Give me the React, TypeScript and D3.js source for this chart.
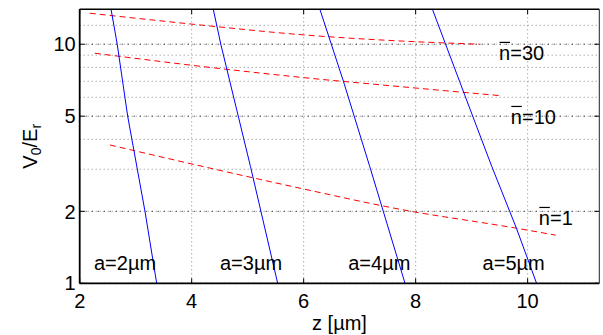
import React from 'react';
import * as d3 from 'd3';

const W = 603;
const H = 335;
const M = { left: 79.7, right: 3.7, top: 9.3, bottom: 51.7 };

// red dashed curves, one per mean occupation n̄
const z30 = [2.18, 4.15, 6.0, 7.72, 9.15];
const v30 = [13.48, 12.04, 10.94, 10.32, 10.0];
const z10 = [2.27, 4.15, 6.0, 7.72, 9.49];
const v10 = [9.17, 8.09, 7.25, 6.65, 6.1];
const z1 = [2.54, 4.2, 6.0, 7.72, 9.8, 10.5];
const v1 = [3.79, 3.08, 2.48, 2.04, 1.7, 1.59];

// blue solid curves, one per trap size a
const zA2 = [2.56, 2.67, 2.857, 3.166, 3.375];
const vA2 = [14, 10, 5, 2, 1];
const zA3 = [4.386, 4.52, 5.05, 5.536];
const vA3 = [14, 10, 3.08, 1];
const zA4 = [6.29, 6.71, 7.18, 7.81];
const vA4 = [14, 7.0, 3.08, 1];
const zA5 = [8.3, 8.88, 9.36, 9.8, 10.16];
const vA5 = [14, 6.1, 3.08, 1.7, 1];

const xTicks = [2, 4, 6, 8, 10];
const yTicks = [1, 2, 5, 10];
const yMinorGrid = [1, 2, 3, 4, 5, 6, 7, 8, 9, 10, 12];

const aLabels = ['a=2', 'a=3', 'a=4', 'a=5'];
const aLabelZ = [2.255, 4.505, 6.796, 9.196];
const nLabels = ['=30', '=10', '=1'];
const nLabelZ = [9.49, 9.7, 10.2];
const nLabelV = [8.6, 4.64, 1.754];

const FONT = '"Liberation Sans", Arial, Helvetica, sans-serif';

export default function App() {
  const iw = W - M.left - M.right;
  const ih = H - M.top - M.bottom;
  const x = d3.scaleLinear().domain([2, 11.28]).range([0, iw]);
  const y = d3.scaleLog().domain([1, 14]).range([ih, 0]);

  const line = d3
    .line<[number, number]>()
    .x(d => x(d[0]))
    .y(d => y(d[1]));
  const smooth = line.curve(d3.curveMonotoneX);
  const pts = (zs: number[], vs: number[]) => zs.map((z, i) => [z, vs[i]] as [number, number]);

  const redSeries = [pts(z30, v30), pts(z10, v10), pts(z1, v1)];
  const blueSeries = [pts(zA2, vA2), pts(zA3, vA3), pts(zA4, vA4), pts(zA5, vA5)];
  const straight = d3
    .line<[number, number]>()
    .x(d => x(d[0]))
    .y(d => y(d[1]));

  return (
    <svg width={W} height={H} style={{ position: 'absolute', left: 0, top: 0, background: '#fff' }} fontFamily={FONT}>
      <g transform={`translate(${M.left},${M.top})`}>
        {/* grid */}
        {yMinorGrid.map(v => (
          <line key={'gy' + v} x1={0} x2={iw} y1={y(v)} y2={y(v)} stroke="#888" strokeWidth={1} strokeDasharray="1,3" />
        ))}
        {yTicks.map(v => (
          <line key={'gY' + v} x1={0} x2={iw} y1={y(v)} y2={y(v)} stroke="#111" strokeWidth={1} strokeDasharray="1,5" />
        ))}
        {xTicks.map(v => (
          <line key={'gx' + v} x1={x(v)} x2={x(v)} y1={0} y2={ih} stroke="#888" strokeWidth={1} strokeDasharray="1,3" />
        ))}

        {/* red dashed */}
        {redSeries.map((s, i) => (
          <path key={'r' + i} d={smooth(s) || ''} fill="none" stroke="#ff0000" strokeWidth={1} strokeDasharray="6,4" />
        ))}
        {/* blue solid */}
        {blueSeries.map((s, i) => (
          <path key={'b' + i} d={straight(s) || ''} fill="none" stroke="#0000ff" strokeWidth={1} />
        ))}

        {/* annotations */}
        {aLabels.map((t, i) => (
          <text key={'a' + i} x={x(aLabelZ[i])} y={y(1.14)} fontSize={20} fill="#000">
            {t}µm
          </text>
        ))}
        {nLabels.map((t, i) => {
          const lx = x(nLabelZ[i]);
          const ly = y(nLabelV[i]);
          return (
            <g key={'n' + i}>
              <text x={lx} y={ly} fontSize={20} fill="#000">
                n{t}
              </text>
              <line x1={lx + 0.5} x2={lx + 11} y1={ly - 17.5} y2={ly - 17.5} stroke="#000" strokeWidth={1.2} />
            </g>
          );
        })}

        {/* ticks */}
        {xTicks.map(v => (
          <g key={'tx' + v}>
            <line x1={x(v)} x2={x(v)} y1={ih} y2={ih - 5} stroke="#000" />
            <line x1={x(v)} x2={x(v)} y1={0} y2={5} stroke="#000" />
            <text x={x(v)} y={ih + 25} fontSize={20} textAnchor="middle" fill="#000">
              {v}
            </text>
          </g>
        ))}
        {yTicks.map(v => (
          <g key={'ty' + v}>
            <line x1={0} x2={5} y1={y(v)} y2={y(v)} stroke="#000" />
            <line x1={iw} x2={iw - 5} y1={y(v)} y2={y(v)} stroke="#000" />
            <text x={-4} y={y(v)} dy="0.36em" fontSize={20} textAnchor="end" fill="#000">
              {v}
            </text>
          </g>
        ))}

        {/* frame */}
        <line x1={0} x2={iw} y1={0} y2={0} stroke="#000" strokeWidth={1.5} />
        <line x1={0} x2={iw} y1={ih} y2={ih} stroke="#000" strokeWidth={1.8} />
        <line x1={0} x2={0} y1={0} y2={ih} stroke="#000" strokeWidth={1.8} />
        <line x1={iw} x2={iw} y1={0} y2={ih} stroke="#222" strokeWidth={1} />

        {/* axis labels */}
        <text x={iw / 2} y={ih + 46.7} fontSize={20} textAnchor="middle" fill="#000">
          z [µm]
        </text>
        <text transform={`translate(${-M.left + 37},${ih / 2}) rotate(-90)`} fontSize={20} textAnchor="middle" fill="#000">
          V<tspan fontSize={14} dy={4}>0</tspan>
          <tspan dy={-4}>/E</tspan>
          <tspan fontSize={14} dy={4}>r</tspan>
        </text>
      </g>
    </svg>
  );
}
